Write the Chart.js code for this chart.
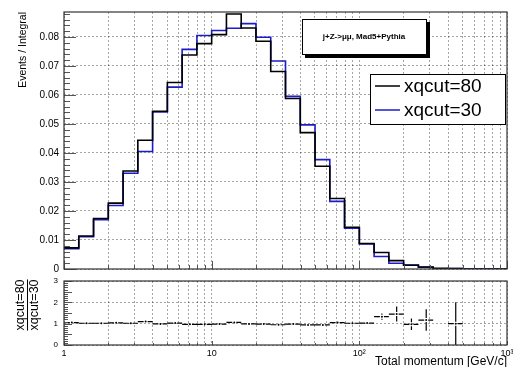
<!DOCTYPE html>
<html>
<head>
<meta charset="utf-8">
<script src="https://cdn.jsdelivr.net/npm/chart.js@4.4.1/dist/chart.umd.min.js"></script>
<style>
  body { margin: 0; background: #fff; }
  #wrap { position: relative; width: 513px; height: 367px; }
  canvas { position: absolute; left: 0; top: 0; }
</style>
</head>
<body>
<div id="wrap">
  <canvas id="mainChart" width="513" height="367"></canvas>
  <canvas id="ratioChart" width="513" height="367"></canvas>
</div>
<script>
// bin edges, 10 log bins per decade from 1 to 1000 GeV/c
const binEdges = [1, 1.259, 1.585, 1.995, 2.512, 3.162, 3.981, 5.012, 6.310, 7.943,
  10, 12.59, 15.85, 19.95, 25.12, 31.62, 39.81, 50.12, 63.10, 79.43,
  100, 125.9, 158.5, 199.5, 251.2, 316.2, 398.1, 501.2, 631.0, 794.3, 1000];

// Events / Integral per bin
const xqcut80 = [0.0073, 0.0114, 0.0174, 0.0227, 0.0338, 0.0444, 0.0544, 0.0643, 0.0738, 0.0777,
  0.0808, 0.0879, 0.0831, 0.0785, 0.0681, 0.0588, 0.0470, 0.0354, 0.0243, 0.0144,
  0.0088, 0.0057, 0.0029, 0.0013, 0.0007, 0.0002, 0.00015, 0, 0, 0];
const xqcut30 = [0.0070, 0.0111, 0.0170, 0.0219, 0.0330, 0.0405, 0.0541, 0.0627, 0.0757, 0.0805,
  0.0822, 0.0830, 0.0846, 0.0799, 0.0717, 0.0595, 0.0497, 0.0377, 0.0233, 0.0141,
  0.0086, 0.0043, 0.0020, 0.00134, 0.0006, 0, 0.00015, 0, 0, 0];

// ratio xqcut=80 / xqcut=30 and its error
const ratio = [1.05, 1.02, 1.02, 1.04, 1.02, 1.10, 0.99, 1.03, 0.97, 0.97,
  0.98, 1.06, 0.99, 0.98, 0.95, 0.98, 0.94, 0.94, 1.05, 1.02,
  1.03, 1.33, 1.45, 0.97, 1.17, null, 1.0, null, null, null];
const ratioErr = [0.02, 0.02, 0.02, 0.02, 0.01, 0.01, 0.01, 0.01, 0.01, 0.01,
  0.01, 0.01, 0.01, 0.01, 0.01, 0.01, 0.01, 0.02, 0.02, 0.03,
  0.04, 0.15, 0.35, 0.27, 0.5, null, 1.0, null, null, null];

const mainYTicks = [0, 0.01, 0.02, 0.03, 0.04, 0.05, 0.06, 0.07, 0.08];
const ratioYTicks = [0, 0.5, 1, 1.5, 2, 2.5, 3];
const xLabels = { 1: '1', 10: '10', 100: '10²', 1000: '10³' };

const FONT = '"Liberation Sans", Arial, Helvetica, sans-serif';

// log grid: 1..9 x 10^k
const xTicks = [];
for (let e = 0; e < 3; e++) {
  for (let s = 1; s < 10; s++) xTicks.push(s * Math.pow(10, e));
}
xTicks.push(1000);

function histPoints(vals) {
  const pts = vals.map((v, i) => ({ x: binEdges[i], y: v }));
  pts.push({ x: binEdges[binEdges.length - 1], y: vals[vals.length - 1] });
  return pts;
}

function drawFrameAndTicks(chart, yMinorStep, yMajorEvery, yMax, yMajLen, yMinLen, xMajLen, xMinLen) {
  const { ctx, chartArea: a, scales: { x, y } } = chart;
  ctx.save();
  ctx.strokeStyle = '#555';
  ctx.lineWidth = 1;
  ctx.beginPath();
  const n = Math.round(yMax / yMinorStep);
  for (let k = 0; k <= n; k++) {
    const py = Math.round(y.getPixelForValue(k * yMinorStep)) + 0.5;
    const len = k % yMajorEvery === 0 ? yMajLen : yMinLen;
    ctx.moveTo(a.left, py);
    ctx.lineTo(a.left + len, py);
  }
  xTicks.forEach(v => {
    const px = Math.round(x.getPixelForValue(v)) + 0.5;
    const len = xLabels[v] ? xMajLen : xMinLen;
    ctx.moveTo(px, a.bottom);
    ctx.lineTo(px, a.bottom - len);
  });
  ctx.stroke();
  ctx.strokeStyle = '#333';
  ctx.lineWidth = 1.2;
  ctx.strokeRect(a.left, a.top, a.right - a.left, a.bottom - a.top);
  ctx.restore();
}

const mainDecor = {
  id: 'mainDecor',
  afterDraw(chart) {
    drawFrameAndTicks(chart, 0.002, 5, 0.088, 12, 6, 8, 4);
    const ctx = chart.ctx;
    ctx.save();
    // title box with shadow
    ctx.fillStyle = '#000';
    ctx.fillRect(305, 22, 125, 36);
    ctx.fillStyle = '#fff';
    ctx.fillRect(302, 19, 125, 36);
    ctx.strokeStyle = '#000';
    ctx.lineWidth = 1;
    ctx.strokeRect(302.5, 19.5, 124, 35);
    ctx.fillStyle = '#000';
    ctx.font = 'bold 8px ' + FONT;
    ctx.textAlign = 'center';
    ctx.textBaseline = 'middle';
    ctx.fillText('j+Z->μμ, Mad5+Pythia', 364, 37);

    // legend
    ctx.fillStyle = '#fff';
    ctx.fillRect(370, 74, 136, 51);
    ctx.strokeStyle = '#000';
    ctx.strokeRect(370.5, 74.5, 135, 50);
    const entries = [['xqcut=80', '#000', 86], ['xqcut=30', '#1c1cc8', 110]];
    ctx.font = '19px ' + FONT;
    ctx.textAlign = 'left';
    entries.forEach(([txt, col, yy]) => {
      ctx.strokeStyle = col;
      ctx.lineWidth = 1.5;
      ctx.beginPath();
      ctx.moveTo(375, yy);
      ctx.lineTo(400, yy);
      ctx.stroke();
      ctx.fillStyle = '#000';
      ctx.fillText(txt, 404, yy + 1);
    });

    // y title
    ctx.translate(23, 12);
    ctx.rotate(-Math.PI / 2);
    ctx.font = '10.5px ' + FONT;
    ctx.textAlign = 'right';
    ctx.textBaseline = 'middle';
    ctx.fillText('Events / Integral', 0, 0);
    ctx.restore();
  }
};

const ratioDecor = {
  id: 'ratioDecor',
  afterDatasetsDraw(chart) {
    const { ctx, scales: { x, y } } = chart;
    ctx.save();
    ctx.strokeStyle = '#000';
    ctx.lineWidth = 1.2;
    ctx.beginPath();
    ratio.forEach((r, i) => {
      if (r === null) return;
      const c = (binEdges[i] + binEdges[i + 1]) / 2;
      const xl = x.getPixelForValue(binEdges[i]);
      const xr = x.getPixelForValue(binEdges[i + 1]);
      const xc = x.getPixelForValue(c);
      const yc = y.getPixelForValue(r);
      const yt = y.getPixelForValue(r + ratioErr[i]);
      const yb = y.getPixelForValue(r - ratioErr[i]);
      ctx.moveTo(xl, yc); ctx.lineTo(xc - 2, yc);
      ctx.moveTo(xc + 2, yc); ctx.lineTo(xr, yc);
      if (yc - yt > 2.5) {
        ctx.moveTo(xc, yt); ctx.lineTo(xc, yc - 2);
        ctx.moveTo(xc, yc + 2); ctx.lineTo(xc, yb);
      }
    });
    ctx.stroke();
    ctx.restore();
  },
  afterDraw(chart) {
    drawFrameAndTicks(chart, 0.1, 5, 3, 8, 4, 4, 2);
    const ctx = chart.ctx;
    ctx.save();
    ctx.fillStyle = '#000';
    ctx.font = '12px ' + FONT;
    ctx.textAlign = 'right';
    ctx.textBaseline = 'middle';
    ctx.fillText('Total momentum [GeV/c]', 507, 362);

    // ratio y title as a fraction
    ctx.translate(27, 305);
    ctx.rotate(-Math.PI / 2);
    ctx.font = '12.5px ' + FONT;
    ctx.textAlign = 'center';
    const w = Math.max(ctx.measureText('xqcut=80').width, ctx.measureText('xqcut=30').width);
    ctx.textBaseline = 'bottom';
    ctx.fillText('xqcut=80', 0, 0);
    ctx.textBaseline = 'top';
    ctx.fillText('xqcut=30', 0, 1);
    ctx.strokeStyle = '#000';
    ctx.lineWidth = 1;
    ctx.beginPath();
    ctx.moveTo(-w / 2, 0.5);
    ctx.lineTo(w / 2, 0.5);
    ctx.stroke();
    ctx.restore();
  }
};

const gridStyle = { color: 'rgba(0,0,0,0.35)', lineWidth: 1, drawTicks: false };
const dotted = { display: false, dash: [2, 2] };

function xScale(showLabels) {
  return {
    type: 'logarithmic',
    min: 1,
    max: 1000,
    grid: gridStyle,
    border: dotted,
    afterBuildTicks: s => { s.ticks = xTicks.map(v => ({ value: v })); },
    ticks: {
      display: showLabels,
      autoSkip: false,
      maxRotation: 0,
      padding: 3,
      color: '#000',
      font: { family: FONT, size: 9 },
      callback: v => xLabels[v] || ''
    },
    afterFit: s => {
      s.height = showLabels ? 22 : 0;
      s.paddingLeft = 0;
      s.paddingRight = 0;
    }
  };
}

new Chart(document.getElementById('mainChart'), {
  type: 'line',
  data: {
    datasets: [
      {
        label: 'xqcut=80',
        data: histPoints(xqcut80),
        borderColor: '#000',
        borderWidth: 1.6,
        stepped: 'before',
        pointRadius: 0
      },
      {
        label: 'xqcut=30',
        data: histPoints(xqcut30),
        borderColor: '#1c1cc8',
        borderWidth: 1.6,
        stepped: 'before',
        pointRadius: 0
      }
    ]
  },
  options: {
    responsive: false,
    animation: false,
    events: [],
    layout: { autoPadding: false, padding: { left: 0, top: 12, right: 6, bottom: 98 } },
    plugins: { legend: { display: false }, tooltip: { enabled: false } },
    scales: {
      x: xScale(false),
      y: {
        type: 'linear',
        min: 0,
        max: 0.0886,
        grid: gridStyle,
        border: dotted,
        afterBuildTicks: s => { s.ticks = mainYTicks.map(v => ({ value: v })); },
        ticks: {
          padding: 5,
          color: '#000',
          font: { family: FONT, size: 10 },
          callback: v => (v === 0 ? '0' : v.toFixed(2))
        },
        afterFit: s => { s.width = 64; s.paddingTop = 0; s.paddingBottom = 0; }
      }
    }
  },
  plugins: [mainDecor]
});

new Chart(document.getElementById('ratioChart'), {
  type: 'scatter',
  data: {
    datasets: [{
      label: 'ratio',
      data: ratio.map((r, i) => ({ x: (binEdges[i] + binEdges[i + 1]) / 2, y: r })),
      pointRadius: 1,
      pointBackgroundColor: '#000',
      pointBorderWidth: 0
    }]
  },
  options: {
    responsive: false,
    animation: false,
    events: [],
    layout: { autoPadding: false, padding: { left: 0, top: 281, right: 6, bottom: 0 } },
    plugins: { legend: { display: false }, tooltip: { enabled: false } },
    scales: {
      x: xScale(true),
      y: {
        type: 'linear',
        min: 0,
        max: 3,
        grid: gridStyle,
        border: dotted,
        afterBuildTicks: s => { s.ticks = ratioYTicks.map(v => ({ value: v })); },
        ticks: {
          padding: 6,
          color: '#000',
          font: { family: FONT, size: 8 },
          callback: v => String(v)
        },
        afterFit: s => { s.width = 64; s.paddingTop = 0; s.paddingBottom = 0; }
      }
    }
  },
  plugins: [ratioDecor]
});
</script>
</body>
</html>
